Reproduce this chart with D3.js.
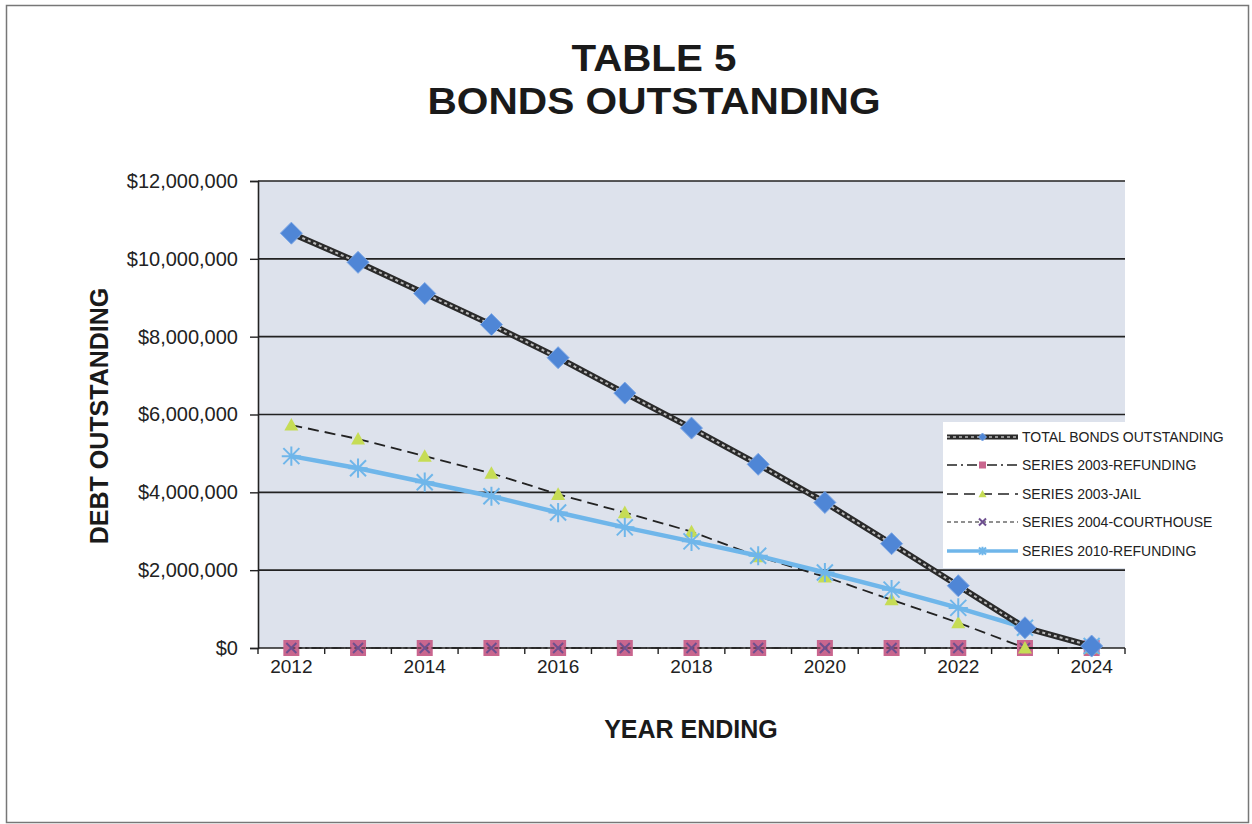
<!DOCTYPE html>
<html><head><meta charset="utf-8">
<script src="https://cdn.jsdelivr.net/npm/d3@7"></script>
<style>body{margin:0;background:#fff;}svg{display:block;font-family:"Liberation Sans",Arial,sans-serif;}</style>
</head><body><svg id="c" width="1252" height="824"></svg>
<script>
const years = [2012,2013,2014,2015,2016,2017,2018,2019,2020,2021,2022,2023,2024];
const totalBonds   = [10660000,9910000,9110000,8310000,7460000,6550000,5650000,4720000,3740000,2680000,1600000,520000,50000];
const series2003Ref = [0,0,0,0,0,0,0,0,0,0,0,0,0];
const series2003Jail = [5730000,5370000,4930000,4490000,3950000,3480000,2990000,2350000,1830000,1240000,650000,0,0];
const series2004Court = [0,0,0,0,0,0,0,0,0,0,0,0,0];
const series2010Ref = [4930000,4620000,4260000,3900000,3480000,3100000,2740000,2370000,1940000,1500000,1030000,520000,50000];
const yTicks = [0,2000000,4000000,6000000,8000000,10000000,12000000];
const xLabels = [2012,2014,2016,2018,2020,2022,2024];
const seriesNames = ["TOTAL BONDS OUTSTANDING","SERIES 2003-REFUNDING","SERIES 2003-JAIL","SERIES 2004-COURTHOUSE","SERIES 2010-REFUNDING"];

const svg = d3.select("#c");
svg.append("rect").attr("x",6.5).attr("y",5.5).attr("width",1242).attr("height",817)
  .attr("fill","#fff").attr("stroke","#777").attr("stroke-width",1.5);

const L=258,R=1125,T=181,B=648;
const x = d3.scaleBand().domain(years).range([L,R]);
const cx = d=>x(d)+x.bandwidth()/2;
const y = d3.scaleLinear().domain([0,12000000]).range([B,T]);

svg.append("rect").attr("x",L).attr("y",T).attr("width",R-L).attr("height",B-T).attr("fill","#dde2ec");

// grid
svg.append("g").selectAll("line").data(yTicks.slice(1)).join("line")
  .attr("x1",L).attr("x2",R).attr("y1",d=>y(d)).attr("y2",d=>y(d))
  .attr("stroke","#222").attr("stroke-width",1.6);

// title
svg.append("text").attr("x",654).attr("y",71).attr("text-anchor","middle")
  .attr("font-size",37).attr("font-weight","bold").attr("fill","#1a1a1a")
  .attr("textLength",165).attr("lengthAdjust","spacingAndGlyphs").text("TABLE 5");
svg.append("text").attr("x",654).attr("y",114).attr("text-anchor","middle")
  .attr("font-size",37).attr("font-weight","bold").attr("fill","#1a1a1a")
  .attr("textLength",453).attr("lengthAdjust","spacingAndGlyphs").text("BONDS OUTSTANDING");

// y axis
const fmt = d=>"$"+d3.format(",")(d);
const ya = svg.append("g").attr("transform",`translate(${L},0)`)
  .call(d3.axisLeft(y).tickValues(yTicks).tickFormat(fmt).tickSize(8).tickPadding(12));
ya.select(".domain").attr("stroke","#222").attr("stroke-width",1.6);
ya.selectAll(".tick line").attr("stroke","#222").attr("stroke-width",1.4);
ya.selectAll("text").attr("font-size",20).attr("fill","#222").attr("font-family","Liberation Sans, Arial, sans-serif");

// x axis
const xa = svg.append("g").attr("transform",`translate(0,${B})`);
xa.append("line").attr("x1",L).attr("x2",R).attr("stroke","#222").attr("stroke-width",1.6);
xa.selectAll("line.tk").data(d3.range(years.length+1)).join("line").attr("class","tk")
  .attr("x1",i=>L+i*x.bandwidth()).attr("x2",i=>L+i*x.bandwidth()).attr("y1",0).attr("y2",6)
  .attr("stroke","#222").attr("stroke-width",1.4);
xa.selectAll("text").data(xLabels).join("text")
  .attr("x",d=>cx(d)).attr("y",25).attr("text-anchor","middle")
  .attr("font-size",19).attr("fill","#222").text(d=>d);

// axis titles
svg.append("text").attr("transform",`translate(108,416) rotate(-90)`).attr("text-anchor","middle")
  .attr("font-size",25).attr("font-weight","bold").attr("fill","#1a1a1a").text("DEBT OUTSTANDING");
svg.append("text").attr("x",691).attr("y",738).attr("text-anchor","middle")
  .attr("font-size",25).attr("font-weight","bold").attr("fill","#1a1a1a").text("YEAR ENDING");

const line = d3.line().x((d,i)=>cx(years[i])).y(d=>y(d));
const g = svg.append("g");

// marker drawers
function diamond(sel,px,py,s){ sel.append("path").attr("d",`M${px},${py-s}L${px+s},${py}L${px},${py+s}L${px-s},${py}Z`).attr("fill","#4f86d6").attr("stroke","#7aa6e6").attr("stroke-width",1); }
function square(sel,px,py,s){ sel.append("rect").attr("x",px-s).attr("y",py-s).attr("width",2*s).attr("height",2*s).attr("fill","#c9668e"); }
function tri(sel,px,py,s){ sel.append("path").attr("d",`M${px},${py-s}L${px+s},${py+s*0.8}L${px-s},${py+s*0.8}Z`).attr("fill","#c6dc55"); }
function xmark(sel,px,py,s){ sel.append("path").attr("d",`M${px-s},${py-s}L${px+s},${py+s}M${px+s},${py-s}L${px-s},${py+s}`).attr("stroke","#6e4f8f").attr("stroke-width",2); }
function star(sel,px,py,s){ sel.append("path").attr("d",`M${px-s},${py-s}L${px+s},${py+s}M${px+s},${py-s}L${px-s},${py+s}M${px},${py-s*1.2}L${px},${py+s*1.2}M${px-s*1.2},${py}L${px+s*1.2},${py}`).attr("stroke","#6fb6ea").attr("stroke-width",2); }

// 2003 refunding (dash-dot)
g.append("path").attr("d",line(series2003Ref)).attr("fill","none").attr("stroke","#222").attr("stroke-width",1.5).attr("stroke-dasharray","10,4,2,4");
series2003Ref.forEach((v,i)=>square(g,cx(years[i]),y(v),8));
// 2004 courthouse
g.append("path").attr("d",line(series2004Court)).attr("fill","none").attr("stroke","#222").attr("stroke-width",1.2).attr("stroke-dasharray","4,3");
series2004Court.forEach((v,i)=>xmark(g,cx(years[i]),y(v),5));
// jail
g.append("path").attr("d",line(series2003Jail)).attr("fill","none").attr("stroke","#222").attr("stroke-width",1.8).attr("stroke-dasharray","11,6");
series2003Jail.forEach((v,i)=>tri(g,cx(years[i]),y(v),7));
// 2010 refunding
g.append("path").attr("d",line(series2010Ref)).attr("fill","none").attr("stroke","#6fb6ea").attr("stroke-width",4.5);
series2010Ref.forEach((v,i)=>star(g,cx(years[i]),y(v),8));
// total
g.append("path").attr("d",line(totalBonds)).attr("fill","none").attr("stroke","#2a2a2a").attr("stroke-width",6);
g.append("path").attr("d",line(totalBonds)).attr("fill","none").attr("stroke","#bbb").attr("stroke-width",2).attr("stroke-dasharray","3,3");
totalBonds.forEach((v,i)=>diamond(g,cx(years[i]),y(v),11));

// legend
const lg = svg.append("g");
lg.append("rect").attr("x",943).attr("y",422).attr("width",297).attr("height",146).attr("fill","#fff");
const ly = [437,465,494,522,551];
const lx1=947,lx2=1018,lm=(lx1+lx2)/2;
seriesNames.forEach((n,i)=>{
  lg.append("text").attr("x",1022).attr("y",ly[i]+5).attr("font-size",14).attr("fill","#222").text(n);
});
// legend samples
lg.append("line").attr("x1",lx1).attr("x2",lx2).attr("y1",ly[0]).attr("y2",ly[0]).attr("stroke","#2a2a2a").attr("stroke-width",5);
lg.append("line").attr("x1",lx1).attr("x2",lx2).attr("y1",ly[0]).attr("y2",ly[0]).attr("stroke","#bbb").attr("stroke-width",1.5).attr("stroke-dasharray","3,3");
diamond(lg,lm,ly[0],4);
lg.append("line").attr("x1",lx1).attr("x2",lx2).attr("y1",ly[1]).attr("y2",ly[1]).attr("stroke","#222").attr("stroke-width",1.5).attr("stroke-dasharray","10,4,2,4");
square(lg,lm,ly[1],3.5);
lg.append("line").attr("x1",lx1).attr("x2",lx2).attr("y1",ly[2]).attr("y2",ly[2]).attr("stroke","#222").attr("stroke-width",1.6).attr("stroke-dasharray","11,6");
tri(lg,lm,ly[2],4);
lg.append("line").attr("x1",lx1).attr("x2",lx2).attr("y1",ly[3]).attr("y2",ly[3]).attr("stroke","#222").attr("stroke-width",1.2).attr("stroke-dasharray","4,3");
xmark(lg,lm,ly[3],3.5);
lg.append("line").attr("x1",lx1).attr("x2",lx2).attr("y1",ly[4]).attr("y2",ly[4]).attr("stroke","#6fb6ea").attr("stroke-width",3.5);
star(lg,lm,ly[4],3.5);
</script></body></html>
